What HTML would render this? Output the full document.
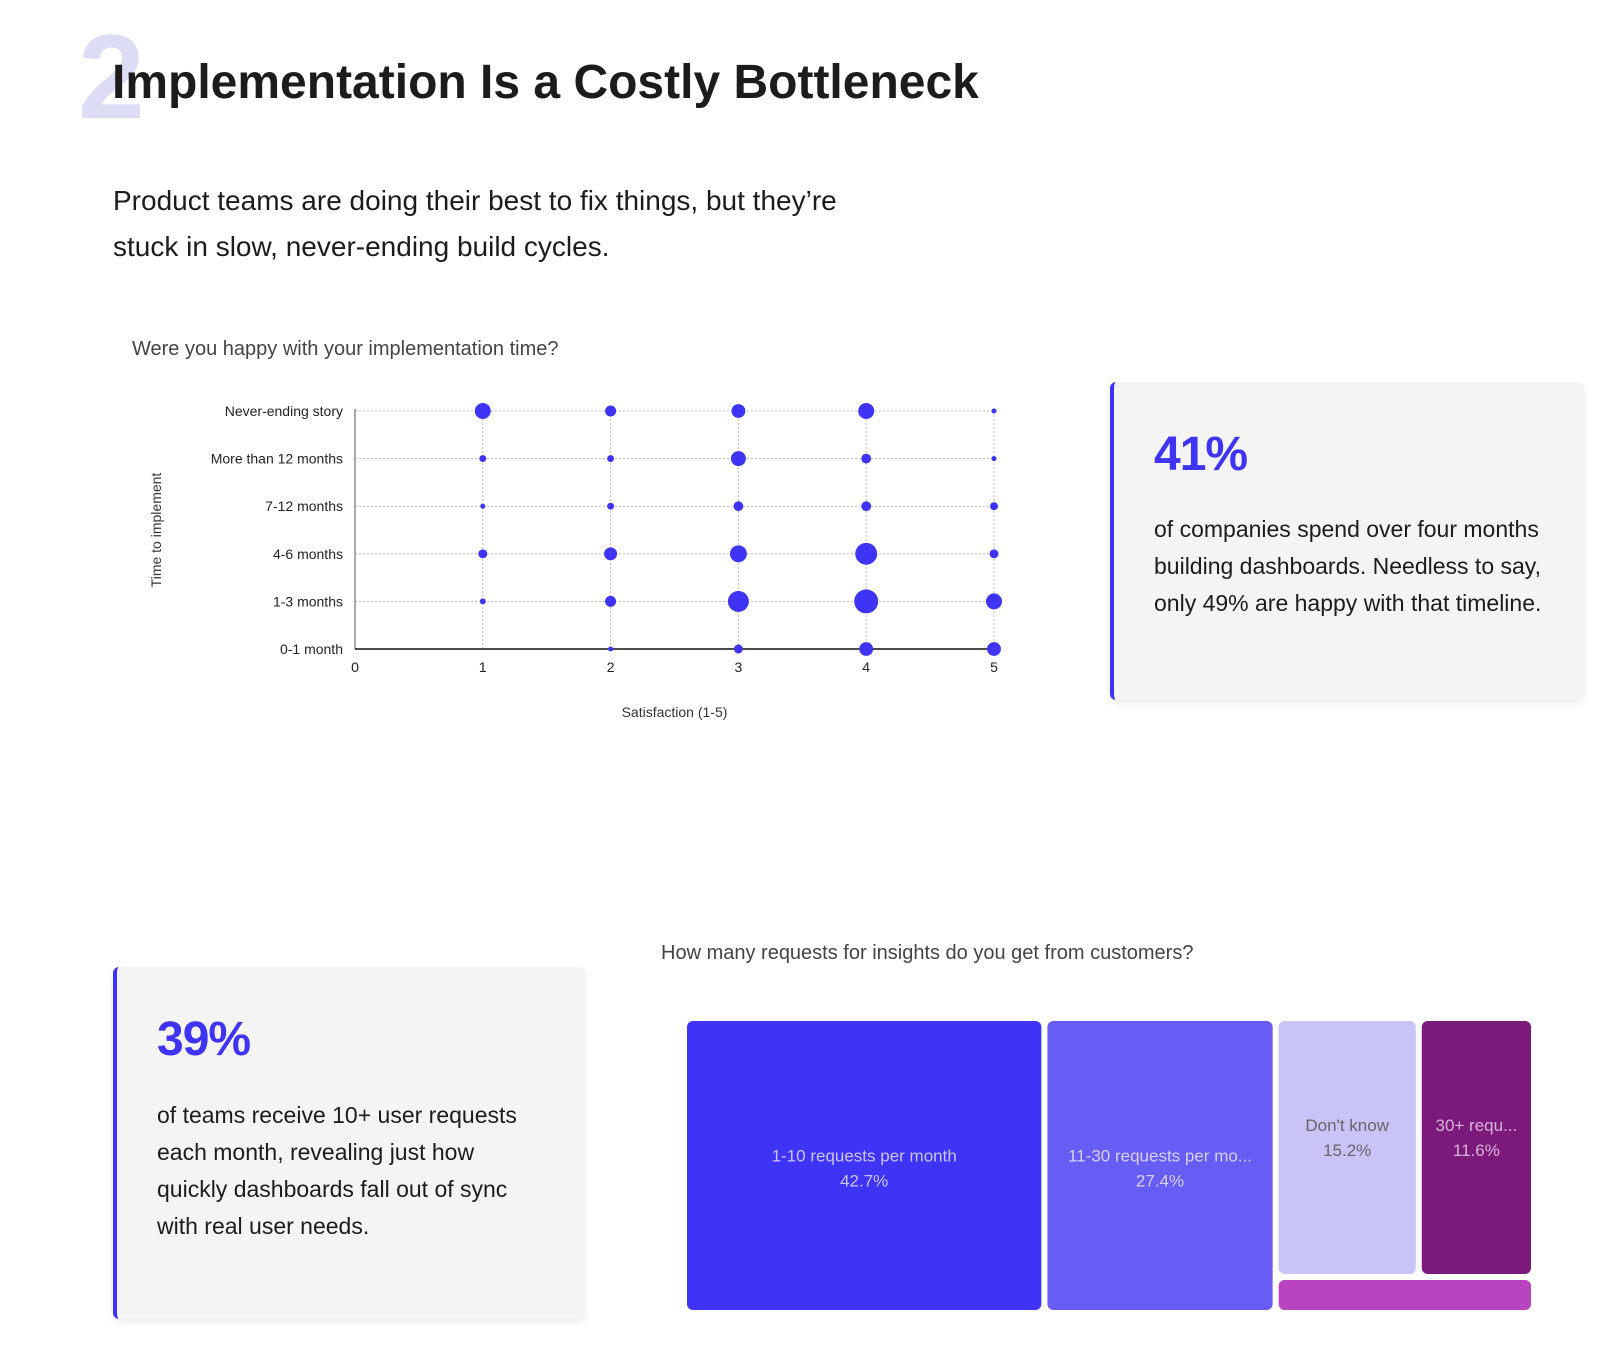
<!DOCTYPE html>
<html><head><meta charset="utf-8">
<style>
body{margin:0;width:1600px;height:1367px;background:#fff;font-family:"Liberation Sans",sans-serif;color:#1c1c1c;position:relative;overflow:hidden}
.abs{position:absolute}
.card{position:absolute;background:#f4f4f4;border-left:4px solid #3f33f5;border-radius:6px;box-shadow:0 3px 8px rgba(0,0,0,0.08)}
.big{font-weight:bold;color:#3f33f5;font-size:48px;letter-spacing:-1px}
.ctext{font-size:23px;line-height:37px;color:#1c1c1c}
</style></head><body>
<div class="abs" style="left:78px;top:12px;font-size:120px;font-weight:bold;color:#dcdcf5;line-height:130px">2</div>
<div class="abs" style="left:112px;top:55px;font-size:48px;font-weight:bold;color:#1c1c1c">Implementation Is a Costly Bottleneck</div>
<div class="abs" style="left:113px;top:178px;font-size:28px;line-height:46px;width:900px">Product teams are doing their best to fix things, but they’re<br>stuck in slow, never-ending build cycles.</div>
<div class="abs" style="left:132px;top:338px;font-size:20px;color:#444">Were you happy with your implementation time?</div>

<svg class="abs" style="left:0;top:0" width="1600" height="760" id="scatter"></svg>

<div class="card" style="left:1110px;top:382px;width:470px;height:318px">
<div class="abs big" style="left:40px;top:45px">41%</div>
<div class="abs ctext" style="left:40px;top:129px;width:400px">of companies spend over four months building dashboards. Needless to say, only 49% are happy with that timeline.</div>
</div>

<div class="card" style="left:113px;top:967px;width:468px;height:352px">
<div class="abs big" style="left:40px;top:45px">39%</div>
<div class="abs ctext" style="left:40px;top:130px;width:390px">of teams receive 10+ user requests each month, revealing just how quickly dashboards fall out of sync with real user needs.</div>
</div>

<div class="abs" style="left:661px;top:942px;font-size:20px;color:#444">How many requests for insights do you get from customers?</div>
<svg class="abs" style="left:0;top:0" width="1600" height="1367" id="tree"></svg>

<script>
const NS="http://www.w3.org/2000/svg";
const rows=["0-1 month","1-3 months","4-6 months","7-12 months","More than 12 months","Never-ending story"];
const xTicks=[0,1,2,3,4,5];
// counts per row (index = satisfaction 1..5)
const row01=[0,1.6,5,12,12];
const row13=[2.25,7.6,27.5,36,16];
const row46=[5,10.5,18,30,5];
const row712=[1.6,3,6,6,4];
const row12p=[3,3,14,6,1.6];
const rowNever=[16,7.6,12,16,1.6];
const series=[row01,row13,row46,row712,row12p,rowNever];
const X0=355,X1=994,Y0=649,Y1=411;
const sx=v=>X0+(X1-X0)*v/5;
const sy=i=>Y0-(Y0-Y1)*i/(rows.length-1);
const sr=v=>2*Math.sqrt(v);
const s=document.getElementById('scatter');
function mk(t,a){const e=document.createElementNS(NS,t);for(const k in a)e.setAttribute(k,a[k]);return e;}
rows.forEach((r,i)=>{
 const g=mk('line',{x1:X0,x2:X1,y1:sy(i),y2:sy(i),stroke:'#bbb','stroke-dasharray':'2,2'});
 
 
 s.appendChild(g);
 const t=mk('text',{x:X0-12,y:sy(i)+5,'text-anchor':'end','font-size':14,fill:'#222'});
 
 
 t.textContent=r;s.appendChild(t);
});
xTicks.forEach(v=>{
 if(v>0){const g=mk('line',{x1:sx(v),x2:sx(v),y1:Y1,y2:Y0,stroke:'#bbb','stroke-dasharray':'2,2'});
 
 
 s.appendChild(g);}
 const t=mk('text',{x:sx(v),y:Y0+23,'text-anchor':'middle','font-size':14,fill:'#222'});
 
 
 t.textContent=v;s.appendChild(t);
});
const ax=mk('line',{x1:X0,x2:X0,y1:Y1-2,y2:Y0,stroke:'#555','stroke-width':1});


s.appendChild(ax);
const axx=mk('line',{x1:X0,x2:X1,y1:Y0,y2:Y0,stroke:'#111','stroke-width':1.5});


s.appendChild(axx);
series.forEach((arr,i)=>arr.forEach((v,j)=>{
 if(v<=0)return;
 const c=mk('circle',{cx:sx(j+1),cy:sy(i),r:sr(v),fill:'#3f33f5'});
 
 
 s.appendChild(c);
}));
const xt=mk('text',{x:(X0+X1)/2,y:717,'text-anchor':'middle','font-size':14,fill:'#333'});


xt.textContent='Satisfaction (1-5)';s.appendChild(xt);
const yt=mk('text',{x:0,y:0,'text-anchor':'middle','font-size':14,fill:'#333',transform:'translate(161,530) rotate(-90)'});


yt.textContent='Time to implement';s.appendChild(yt);

// treemap
const tLabels=["1-10 requests per month","11-30 requests per mo...","Don't know","30+ requ...",""];
const tValues=[42.7,27.4,15.2,11.6,3.1];
const tShown=["42.7%","27.4%","15.2%","11.6%",""];
const tColors=["#3f33f5","#675cf3","#c8c4f7","#7b1a7b","#b944bf"];
const tText=["#c9c6ff","#d6d2ff","#666","#d9b3d9",""];
const TX=687,TY=1021,TW=844,TH=289,G=6;
const t=document.getElementById('tree');
const total=tValues.reduce((a,b)=>a+b,0);
function rect(x,y,w,h,i){
 const r=mk('rect',{x:x,y:y,width:Math.max(0,w),height:Math.max(0,h),rx:6,fill:tColors[i]});
 
 
 t.appendChild(r);
 if(tLabels[i]){
  const cy=i<2?y+h/2:y+h*0.45;
  const a=mk('text',{x:x+w/2,y:cy-4,'text-anchor':'middle','font-size':17,fill:tText[i]});
  
  
  a.textContent=tLabels[i];t.appendChild(a);
  const b=mk('text',{x:x+w/2,y:cy+21,'text-anchor':'middle','font-size':17,fill:tText[i]});
  
  
  b.textContent=tShown[i];t.appendChild(b);
 }
}
let x=TX;
const w0=TW*tValues[0]/total; rect(x,TY,w0-G,TH,0); x+=w0;
const w1=TW*tValues[1]/total; rect(x,TY,w1-G,TH,1); x+=w1;
const restW=TX+TW-x;
const rest=tValues[2]+tValues[3]+tValues[4];
const topH=TH*(tValues[2]+tValues[3])/rest;
const w2=restW*tValues[2]/(tValues[2]+tValues[3]);
rect(x,TY,w2-G,topH-G,2);
rect(x+w2,TY,restW-w2,topH-G,3);
rect(x,TY+topH,restW,TH-topH,4);
</script>
</body></html>
